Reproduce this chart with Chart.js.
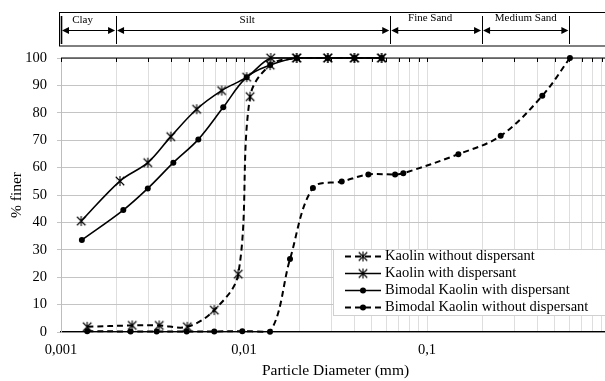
<!DOCTYPE html>
<html><head><meta charset="utf-8">
<script src="https://cdn.jsdelivr.net/npm/chart.js@4"></script>
<style>
html,body{margin:0;padding:0;background:#fff;overflow:hidden;width:605px;height:381px}
#wrap{position:relative;width:620px;height:381px}
</style>
</head><body><div id="wrap"><canvas id="c" width="620" height="381"></canvas></div>
<script>
// ---- data ----
const decadeTicks = [0.001, 0.01, 0.1, 1];
const decadeLabels = ['0,001', '0,01', '0,1', ''];
const gridMultipliers = [1, 2, 3, 4, 5, 6, 7, 8, 9];
const yTicks = [0, 10, 20, 30, 40, 50, 60, 70, 80, 90, 100];

const seriesNames = ['Kaolin without dispersant', 'Kaolin with dispersant',
  'Bimodal Kaolin with dispersant', 'Bimodal Kaolin without dispersant'];

const kaolinWithoutX = [0.00139, 0.00245, 0.00344, 0.0049, 0.00688, 0.0093, 0.0108, 0.0139, 0.0194, 0.0287, 0.0401, 0.0565];
const kaolinWithoutY = [1.9, 2.4, 2.4, 1.9, 8.0, 21.1, 85.9, 97.4, 100, 100, 100, 100];

const kaolinWithX = [0.00129, 0.0021, 0.00298, 0.00398, 0.00551, 0.00755, 0.01034, 0.0140, 0.0194, 0.0287, 0.0401, 0.0565];
const kaolinWithY = [40.5, 55.1, 61.8, 71.3, 81.3, 88.1, 93.0, 100, 100, 100, 100, 100];

const bimodalWithX = [0.0013, 0.00219, 0.00298, 0.00411, 0.00563, 0.0077, 0.01034, 0.0139, 0.0194, 0.0287, 0.0401, 0.0565];
const bimodalWithY = [33.6, 44.5, 52.4, 61.8, 70.3, 82.0, 93.0, 97.4, 100, 100, 100, 100];

const bimodalWithoutX = [0.00139, 0.0024, 0.00333, 0.00486, 0.00688, 0.00979, 0.01387, 0.01784, 0.0238, 0.0342, 0.0478, 0.0669, 0.0742, 0.1484, 0.2528, 0.4266, 0.604];
const bimodalWithoutY = [0.3, 0.2, 0.2, 0.2, 0.2, 0.3, 0.1, 26.6, 52.6, 54.9, 57.5, 57.5, 57.9, 64.9, 71.6, 86.2, 100];

const bandNames = ['Clay', 'Silt', 'Fine Sand', 'Medium Sand'];
const bandLimits = [0.001, 0.002, 0.063, 0.2, 0.6];

// ---- helpers ----
const SERIF = "'Liberation Serif', 'Times New Roman', serif";
function makeStar(size, lw) {
  const c = document.createElement('canvas');
  c.width = c.height = size;
  const g = c.getContext('2d');
  g.strokeStyle = '#000'; g.lineWidth = lw;
  const m = size / 2, r = size / 2 - 1, d = r * 0.85;
  g.beginPath();
  g.moveTo(m - d, m - d); g.lineTo(m + d, m + d);
  g.moveTo(m + d, m - d); g.lineTo(m - d, m + d);
  g.moveTo(m, m - r); g.lineTo(m, m + r);
  g.stroke();
  return c;
}
const starImg = makeStar(12, 1.1);
const pts = (xs, ys) => xs.map((x, i) => ({x, y: ys[i]}));

const gridValues = [];
decadeTicks.slice(0, 3).forEach(d => gridMultipliers.forEach(m => gridValues.push(+(m * d).toPrecision(3))));
gridValues.push(1);
const labelFor = v => { const i = decadeTicks.indexOf(v); return i >= 0 ? decadeLabels[i] : ''; };

const common = {fill: false, borderColor: '#000', tension: 0.35, clip: false, pointBorderColor: '#000', pointBackgroundColor: '#000'};
const datasets = [
  Object.assign({}, common, {label: seriesNames[0], data: pts(kaolinWithoutX, kaolinWithoutY), borderWidth: 2, borderDash: [6, 4], pointStyle: starImg, marker: 'star'}),
  Object.assign({}, common, {label: seriesNames[1], data: pts(kaolinWithX, kaolinWithY), borderWidth: 1.6, pointStyle: starImg, marker: 'star'}),
  Object.assign({}, common, {label: seriesNames[2], data: pts(bimodalWithX, bimodalWithY), borderWidth: 1.6, pointStyle: 'circle', pointRadius: 3, pointBorderWidth: 0, marker: 'dot'}),
  Object.assign({}, common, {label: seriesNames[3], data: pts(bimodalWithoutX, bimodalWithoutY), borderWidth: 2, borderDash: [6, 4], pointStyle: 'circle', pointRadius: 3, pointBorderWidth: 0, marker: 'dot'})
];

// ---- plugins ----
const topAxisPlugin = {
  id: 'topAxis',
  afterDatasetsDraw(chart) {
    const {ctx, chartArea: a, scales: {x}} = chart;
    ctx.save();
    ctx.strokeStyle = '#000'; ctx.lineWidth = 1.2;
    ctx.beginPath(); ctx.moveTo(a.left, a.top); ctx.lineTo(a.right, a.top); ctx.stroke();
    ctx.lineWidth = 1;
    ctx.beginPath();
    gridValues.forEach(v => { const px = Math.round(x.getPixelForValue(v)) + 0.5; ctx.moveTo(px, a.top); ctx.lineTo(px, a.top + 4); });
    ctx.stroke();
    ctx.restore();
  }
};

const bandPlugin = {
  id: 'band',
  afterDraw(chart) {
    const {ctx, scales: {x}} = chart;
    ctx.save();
    ctx.strokeStyle = '#000'; ctx.lineWidth = 1;
    ctx.strokeRect(59.5, 12.5, 570, 33.5);
    const xs = bandLimits.map(v => x.getPixelForValue(v));
    xs.forEach((px, i) => {
      ctx.lineWidth = i === 0 ? 1.6 : 1;
      ctx.beginPath(); ctx.moveTo(Math.round(px) + 0.5, 16); ctx.lineTo(Math.round(px) + 0.5, 44); ctx.stroke();
    });
    const ay = 30.5;
    ctx.fillStyle = '#000'; ctx.lineWidth = 1.2;
    for (let i = 0; i < xs.length - 1; i++) {
      const l = xs[i] + 1, r = xs[i + 1] - 1;
      ctx.beginPath(); ctx.moveTo(l + 4, ay); ctx.lineTo(r - 4, ay); ctx.stroke();
      ctx.beginPath(); ctx.moveTo(l, ay); ctx.lineTo(l + 7, ay - 3.5); ctx.lineTo(l + 7, ay + 3.5); ctx.closePath(); ctx.fill();
      ctx.beginPath(); ctx.moveTo(r, ay); ctx.lineTo(r - 7, ay - 3.5); ctx.lineTo(r - 7, ay + 3.5); ctx.closePath(); ctx.fill();
      ctx.font = '11px ' + SERIF; ctx.textAlign = 'center'; ctx.textBaseline = 'middle';
      const shift = i < 3 ? -6 : 0;
      ctx.fillText(bandNames[i], (xs[i] + xs[i + 1]) / 2 + shift, i < 2 ? 20 : 18);
    }
    ctx.restore();
  }
};

const legendPlugin = {
  id: 'boxLegend',
  afterDraw(chart) {
    const {ctx} = chart;
    ctx.save();
    const bx = 333.5, by = 249.5, bw = 290, bh = 66;
    ctx.fillStyle = '#fff'; ctx.fillRect(bx, by, bw, bh);
    ctx.strokeStyle = '#d0d0d0'; ctx.lineWidth = 1; ctx.strokeRect(bx, by, bw, bh);
    chart.data.datasets.forEach((ds, i) => {
      const yy = 256.5 + i * 17;
      ctx.strokeStyle = '#000'; ctx.lineWidth = ds.borderWidth;
      ctx.setLineDash(ds.borderDash || []);
      ctx.beginPath(); ctx.moveTo(345, yy); ctx.lineTo(381, yy); ctx.stroke();
      ctx.setLineDash([]);
      if (ds.marker === 'star') ctx.drawImage(starImg, 363 - 6, yy - 6);
      else { ctx.fillStyle = '#000'; ctx.beginPath(); ctx.arc(363, yy, 3, 0, Math.PI * 2); ctx.fill(); }
      ctx.fillStyle = '#000'; ctx.font = '14.5px ' + SERIF; ctx.textAlign = 'left'; ctx.textBaseline = 'middle';
      ctx.fillText(ds.label, 385, yy);
    });
    ctx.restore();
  }
};

new Chart(document.getElementById('c'), {
  type: 'line',
  data: {datasets},
  plugins: [topAxisPlugin, bandPlugin, legendPlugin],
  options: {
    responsive: false, devicePixelRatio: 1, animation: false,
    layout: {padding: {top: 58, right: 10, left: 0, bottom: 0}},
    plugins: {legend: {display: false}, tooltip: {enabled: false}},
    scales: {
      x: {
        type: 'logarithmic', min: 0.001, max: 1,
        afterBuildTicks: s => { s.ticks = gridValues.map(v => ({value: v})); },
        afterFit: s => { s.height = 49; },
        grid: {color: '#dedede', lineWidth: 1, drawTicks: false},
        border: {color: '#000', width: 1.3},
        ticks: {autoSkip: false, maxRotation: 0, padding: 9, color: '#000',
          font: {family: SERIF, size: 14.5}, callback: v => labelFor(v)},
        title: {display: true, text: 'Particle Diameter (mm)', color: '#000',
          font: {family: SERIF, size: 15.5}, padding: {top: 0, bottom: 1}}
      },
      y: {
        min: 0, max: 100,
        afterBuildTicks: s => { s.ticks = yTicks.map(v => ({value: v})); },
        afterFit: s => { s.width = 61; },
        grid: {color: '#c4c4c4', lineWidth: 1, tickLength: 4},
        border: {color: '#bdbdbd', width: 1},
        ticks: {padding: 10, color: '#000', font: {family: SERIF, size: 14.5}},
        title: {display: true, text: '% finer', color: '#000',
          font: {family: SERIF, size: 15.5}, padding: {top: 8, bottom: 0}}
      }
    }
  }
});
</script>
</body></html>
